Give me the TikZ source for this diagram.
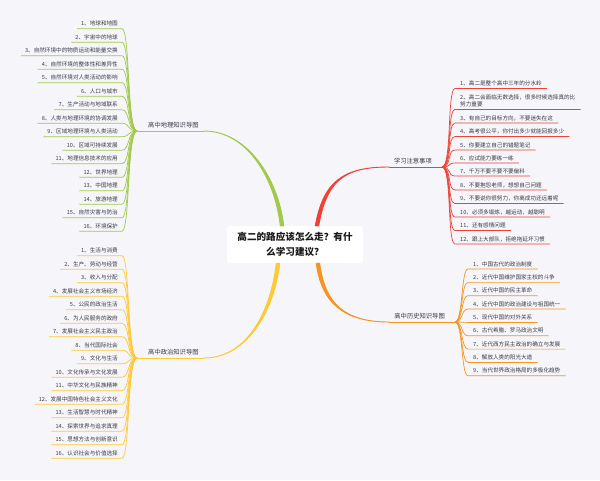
\documentclass[tikz,border=0pt]{standalone}
\usepackage{fontspec}
\setmainfont{Noto Sans CJK SC}

\definecolor{bgcol}{HTML}{F5F5FA}
\definecolor{geocol}{HTML}{A2C94A}
\definecolor{notecol}{HTML}{EF4136}
\definecolor{histcol}{HTML}{F7931E}
\definecolor{polcol}{HTML}{FFC933}
\definecolor{txtcol}{HTML}{3A3A44}

\tikzset{
  root/.style={fill=white, rounded corners=3pt, minimum width=136pt, minimum height=37pt,
    align=center, font=\fontsize{9.6}{15}\selectfont\bfseries, text=black!90},
  branch/.style={inner xsep=5pt, inner ysep=2.5pt, text height=5.2pt, text depth=1pt,
    font=\fontsize{6.3}{7}\selectfont, text=txtcol},
  item/.style={inner xsep=4pt, inner ysep=2pt, text height=4.6pt, text depth=0.8pt,
    font=\fontsize{5.6}{7.6}\selectfont, text=txtcol},
  trunk/.style={line width=0.9pt, line join=round},
  twig/.style={line width=0.7pt},
}

\begin{document}
\begin{tikzpicture}[x=1pt, y=-1pt]
\fill[bgcol] (0,0) rectangle (600,480);
\useasboundingbox (0,0) rectangle (600,480);

\node[root] (root) at (295,244.5) {高二的路应该怎么走？有什\\么学习建议？};

\coordinate (geofan) at (137,131);
\coordinate (polfan) at (137,358);
\coordinate (notefan) at (442,167);
\coordinate (histfan) at (455,322);

\node[branch, anchor=south west] (geo) at (143,131) {高中地理知识导图};
\node[branch, anchor=south west] (pol) at (143,358) {高中政治知识导图};
\node[branch, anchor=south east] (notes) at (437,167) {学习注意事项};
\node[branch, anchor=south east] (hist) at (450,322) {高中历史知识导图};

% tapered trunks
\filldraw[geocol, trunk] ([xshift=-14.7pt]root.north) .. controls +(-5,-45) and +(45,0) .. (geo.south east)
  .. controls +(45,0) and +(-5,-45) .. ([xshift=-11.3pt]root.north) -- cycle;
\draw[geocol, trunk] (geo.south east) -- (geofan);
\filldraw[polcol, trunk] ([xshift=-18.7pt]root.south) .. controls +(-5,45) and +(45,0) .. (pol.south east)
  .. controls +(45,0) and +(-5,45) .. ([xshift=-15.3pt]root.south) -- cycle;
\draw[polcol, trunk] (pol.south east) -- (polfan);
\filldraw[notecol, trunk] ([xshift=20.3pt]root.north) .. controls +(8,-45) and +(-45,0) .. (notes.south west)
  .. controls +(-45,0) and +(8,-45) .. ([xshift=23.7pt]root.north) -- cycle;
\draw[notecol, trunk] (notes.south west) -- (notefan);
\filldraw[histcol, trunk] ([xshift=21.3pt]root.south) .. controls +(5,40) and +(-45,0) .. (hist.south west)
  .. controls +(-45,0) and +(5,40) .. ([xshift=24.7pt]root.south) -- cycle;
\draw[histcol, trunk] (hist.south west) -- (histfan);

\foreach \t [count=\i] in {1、地球和地图, 2、宇宙中的地球, 3、自然环境中的物质运动和能量交换,
  4、自然环境的整体性和差异性, 5、自然环境对人类活动的影响, 6、人口与城市, 7、生产活动与地域联系,
  8、人类与地理环境的协调发展, 9、区域地理环境与人类活动, 10、区域可持续发展, 11、地理信息技术的应用,
  12、世界地理, 13、中国地理, 14、旅游地理, 15、自然灾害与防治, 16、环境保护} {
  \node[item, anchor=south east] (g\i) at (122,{28.7+13.5*(\i-1)}) {\t};
  \draw[geocol, twig] (geofan) .. controls +(-10,0) and +(8,0) .. (g\i.south east) -- (g\i.south west);
}

\foreach \t [count=\i] in {1、生活与消费, 2、生产、劳动与经营, 3、收入与分配, 4、发展社会主义市场经济,
  5、公民的政治生活, 6、为人民服务的政府, 7、发展社会主义民主政治, 8、当代国际社会, 9、文化与生活,
  10、文化传承与文化发展, 11、中华文化与民族精神, 12、发展中国特色社会主义文化, 13、生活智慧与时代精神,
  14、探索世界与追求真理, 15、思想方法与创新意识, 16、认识社会与价值选择} {
  \node[item, anchor=south east] (p\i) at (122,{255.7+13.5*(\i-1)}) {\t};
  \draw[polcol, twig] (polfan) .. controls +(-10,0) and +(8,0) .. (p\i.south east) -- (p\i.south west);
}

\foreach \n/\y/\t in {1/88.5/1、高二是整个高中三年的分水岭, 3/123/3、有自己的目标方向，不要迷失在这,
  4/136.5/4、高考很公平，你付出多少就能回报多少, 5/150/5、你要建立自己的错题笔记, 6/163/6、应试能力要练一练,
  7/176/7、千万不要不要不要偏科, 8/190/8、不要抱怨老师，想想自己问题, 9/203.5/9、不要说你很努力，你离成功还远着呢,
  10/217/10、必须多锻炼，越运动，越聪明, 11/230.5/11、还有感情问题, 12/244/12、跟上大部队，拒绝拖延坏习惯} {
  \node[item, anchor=south west, inner xsep=5pt] (n\n) at (455,\y) {\t};
  \draw[notecol, twig] (notefan) .. controls +(10,0) and +(-8,0) .. (n\n.south west) -- (n\n.south east);
}
\node[item, anchor=south west, inner xsep=5pt, text height={}, text depth={}, align=left] (n2) at (455,109.5)
  {2、高二会面临无数选择，很多时候选择真的比\\努力重要};
\draw[notecol, twig] (notefan) .. controls +(10,0) and +(-8,0) .. (n2.south west) -- (n2.south east);

\foreach \t [count=\i] in {1、中国古代的政治制度, 2、近代中国维护国家主权的斗争, 3、近代中国的民主革命,
  4、近代中国的政治建设与祖国统一, 5、现代中国的对外关系, 6、古代希腊、罗马政治文明,
  7、近代西方民主政治的确立与发展, 8、解放人类的阳光大道, 9、当代世界政治格局的多极化趋势} {
  \node[item, anchor=south west, inner xsep=5pt] (h\i) at (468,{269+13.35*(\i-1)}) {\t};
  \draw[histcol, twig] (histfan) .. controls +(8,0) and +(-7,0) .. (h\i.south west) -- (h\i.south east);
}
\end{tikzpicture}
\end{document}
